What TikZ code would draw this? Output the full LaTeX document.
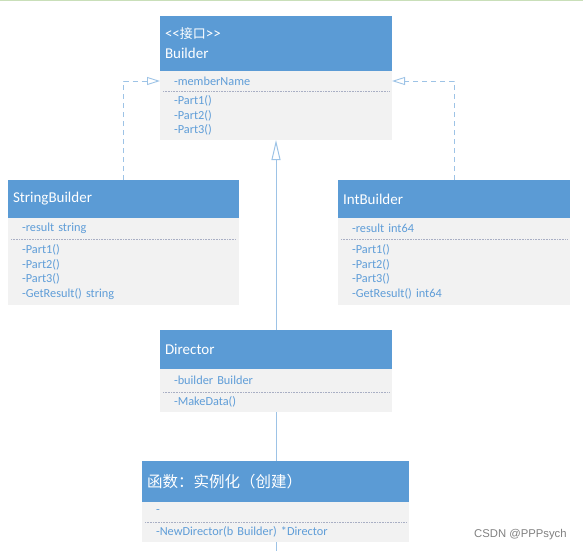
\documentclass[tikz,border=0pt]{standalone}
\usepackage{fontspec}
\setmainfont{Carlito}
\newfontfamily\cjk{Noto Sans CJK SC}
\newfontfamily\wmfont{Liberation Sans}
\usetikzlibrary{positioning,arrows.meta}
\definecolor{umlblue}{HTML}{5B9BD5}
\definecolor{umlbody}{HTML}{F2F2F2}
\definecolor{umltext}{HTML}{5F9DD8}
\definecolor{umlline}{HTML}{9DC3E6}
\definecolor{umlsep}{HTML}{A9AFC4}
\definecolor{topgreen}{HTML}{C9DFB9}

\begin{document}
\begin{tikzpicture}[x=1pt, y=-1pt,
    head/.style={fill=umlblue, text=white, anchor=north west, outer sep=0pt, inner xsep=5pt, inner ysep=0pt,
      align=left, text width=#1, font=\fontsize{15}{20}\selectfont},
    attr/.style={fill=umlbody, text=umltext, outer sep=0pt, inner xsep=14pt, inner ysep=0pt,
      align=left, text width=#1, font=\fontsize{12.3}{14.7}\selectfont},
    sep/.style={umlsep, densely dotted, line width=0.6pt},
    realize/.style={umlline, dash pattern=on 5pt off 4pt, line width=0.9pt, -{Triangle[open, length=13pt, width=8pt]}},
    inherit/.style={umlline, line width=1pt, -{Triangle[open, length=20pt, width=9pt]}},
    link/.style={umlline, line width=1pt}]
  \useasboundingbox (0,0) rectangle (583,551);
  \draw[topgreen, line width=1.5pt] (0,0.75) -- (583,0.75);

  % interface
  \node[head=222pt, minimum height=55pt] (builder) at (160,16) {<{}<{\cjk\fontsize{13}{20}\selectfont 接口}>{}>\\Builder};
  \node[attr=204pt, minimum height=20pt, below=0pt of builder] (builderA) {-memberName};
  \node[attr=204pt, minimum height=49pt, below=0pt of builderA] (builderM) {-Part1()\\-Part2()\\-Part3()};

  % concrete builders
  \node[head=221pt, minimum height=38pt] (sb) at (8,180) {StringBuilder};
  \node[attr=203pt, minimum height=21pt, below=0pt of sb] (sbA) {-result string};
  \node[attr=203pt, minimum height=66pt, below=0pt of sbA] (sbM) {-Part1()\\-Part2()\\-Part3()\\-GetResult() string};

  \node[head=222pt, minimum height=38pt] (ib) at (338,180) {IntBuilder};
  \node[attr=204pt, minimum height=21pt, below=0pt of ib] (ibA) {-result int64};
  \node[attr=204pt, minimum height=66pt, below=0pt of ibA] (ibM) {-Part1()\\-Part2()\\-Part3()\\-GetResult() int64};

  % director
  \node[head=222pt, minimum height=39pt] (director) at (160,330) {Director};
  \node[attr=204pt, minimum height=23pt, below=0pt of director] (dirA) {-builder Builder};
  \node[attr=204pt, minimum height=20pt, below=0pt of dirA] (dirM) {-MakeData()};

  % constructor function
  \node[head=257pt, minimum height=41pt, font=\cjk\fontsize{15.5}{20}\selectfont] (func) at (142,461) {函数：实例化（创建）};
  \node[attr=239pt, minimum height=20pt, below=0pt of func] (funcA) {-};
  \node[attr=239pt, minimum height=20pt, below=0pt of funcA] (funcM) {-NewDirector(b Builder) *Director};

  \foreach \c in {builderA, sbA, ibA, dirA, funcA}
    \draw[sep] ([xshift=3pt]\c.south west) -- ([xshift=-3pt]\c.south east);

  \draw[realize] (sb.north) |- (builderA.west);
  \draw[realize] (ib.north) |- (builderA.east);
  \draw[inherit] (director.north) -- (builderM.south);
  \draw[link] (dirM.south) -- (dirM.south |- func.north);
  \coordinate (tail) at (276,551);
  \draw[link] (tail |- funcM.south) -- (tail);

  \node[font=\wmfont\fontsize{11.3}{12}\selectfont, text=gray, anchor=west, inner sep=0pt] (wm) at (474,535) {CSDN @PPPsych};
\end{tikzpicture}
\end{document}
